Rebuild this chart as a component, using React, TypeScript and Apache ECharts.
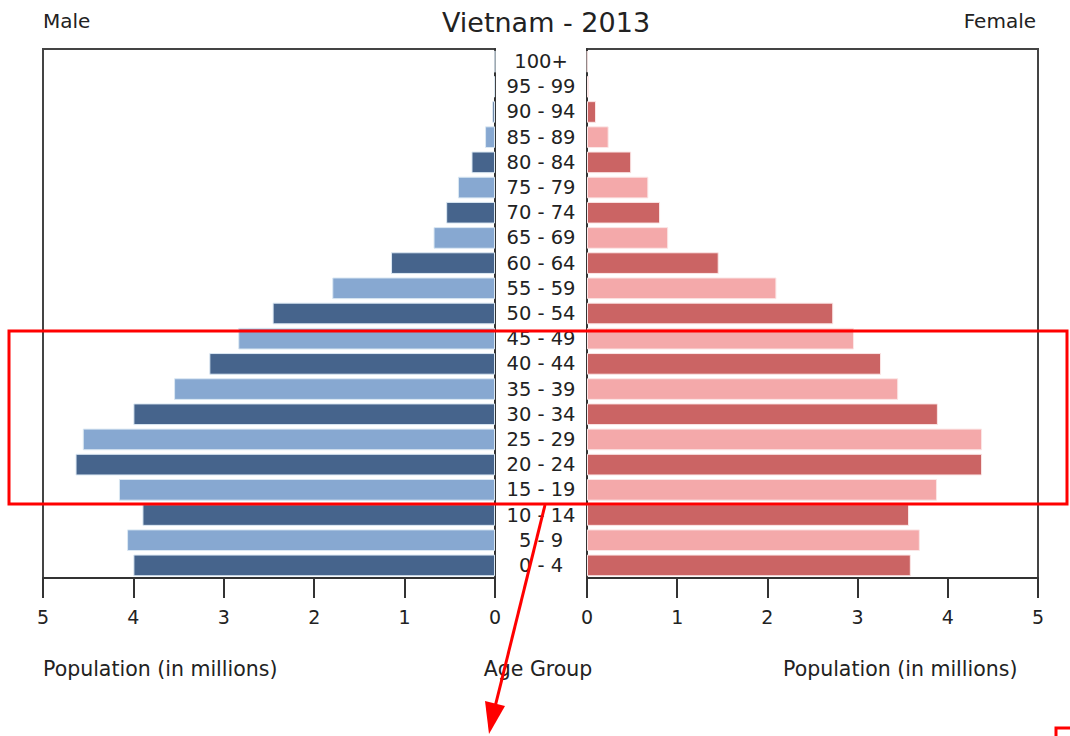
import React, { useEffect, useRef } from "react";
import * as echarts from "echarts";

const ageGroups = [
  "0 - 4", "5 - 9", "10 - 14", "15 - 19", "20 - 24", "25 - 29", "30 - 34",
  "35 - 39", "40 - 44", "45 - 49", "50 - 54", "55 - 59", "60 - 64", "65 - 69",
  "70 - 74", "75 - 79", "80 - 84", "85 - 89", "90 - 94", "95 - 99", "100+",
];

const maleValues = [
  4.0, 4.07, 3.9, 4.16, 4.64, 4.56, 4.0, 3.55, 3.16, 2.84, 2.46, 1.8, 1.15,
  0.68, 0.54, 0.41, 0.26, 0.11, 0.03, 0.01, 0.002,
];

const femaleValues = [
  3.59, 3.69, 3.57, 3.88, 4.38, 4.38, 3.89, 3.45, 3.26, 2.96, 2.73, 2.1, 1.46,
  0.9, 0.81, 0.68, 0.49, 0.24, 0.1, 0.02, 0.005,
];

const xTicks = [0, 1, 2, 3, 4, 5];

const MALE_DARK = "#46648c";
const MALE_LIGHT = "#87a8d1";
const FEMALE_DARK = "#cb6464";
const FEMALE_LIGHT = "#f4a9aa";

export default function App() {
  const ref = useRef<HTMLDivElement>(null);

  useEffect(() => {
    if (!ref.current) return;
    const chart = echarts.init(ref.current, undefined, { renderer: "svg" });
    const font = "DejaVu Sans";
    const txt = "#222";

    const xAxisCommon = {
      type: "value" as const,
      min: xTicks[0],
      max: xTicks[xTicks.length - 1],
      interval: 1,
      splitLine: { show: false },
      axisLine: { show: true, lineStyle: { color: "#333", width: 2 } },
      axisTick: { show: true, inside: false, length: 20, lineStyle: { color: "#333", width: 2 } },
      axisLabel: { color: txt, fontSize: 19, fontFamily: font, margin: 29 },
    };

    const option = {
      animation: false,
      backgroundColor: "#ffffff",
      title: {
        text: "Vietnam - 2013",
        left: 541,
        top: 4,
        textAlign: "center",
        textStyle: { color: txt, fontSize: 27, fontWeight: "normal", fontFamily: font },
      },
      grid: [
        {
          left: 43, right: 575, top: 49, bottom: 158,
          show: true, borderColor: "#444", borderWidth: 2, backgroundColor: "#fff",
        },
        {
          left: 587, right: 32, top: 49, bottom: 158,
          show: true, borderColor: "#444", borderWidth: 2, backgroundColor: "#fff",
        },
      ],
      xAxis: [
        { ...xAxisCommon, gridIndex: 0, inverse: true },
        { ...xAxisCommon, gridIndex: 1 },
      ],
      yAxis: [
        {
          type: "category", gridIndex: 0, data: ageGroups, position: "right",
          axisLine: { show: true, lineStyle: { color: "#333", width: 2 } },
          axisTick: { show: false },
          axisLabel: { show: false },
        },
        {
          type: "category", gridIndex: 1, data: ageGroups, position: "left",
          axisLine: { show: true, lineStyle: { color: "#333", width: 2 } },
          axisTick: { show: false },
          axisLabel: {
            show: true, interval: 0, hideOverlap: false, align: "center", margin: 46,
            color: txt, fontSize: 19.5, fontFamily: font, padding: [8, 0, 0, 0],
          },
        },
      ],
      series: [
        {
          type: "bar", xAxisIndex: 0, yAxisIndex: 0, barCategoryGap: "14%",
          data: maleValues.map((v, i) => ({
            value: v,
            itemStyle: { color: i % 2 === 0 ? MALE_DARK : MALE_LIGHT, borderColor: "#dbe8f3", borderWidth: 1 },
          })),
        },
        {
          type: "bar", xAxisIndex: 1, yAxisIndex: 1, barCategoryGap: "14%",
          data: femaleValues.map((v, i) => ({
            value: v,
            itemStyle: { color: i % 2 === 0 ? FEMALE_DARK : FEMALE_LIGHT, borderColor: "#fbe6e6", borderWidth: 1 },
          })),
        },
      ],
      graphic: [
        { type: "text", left: 43, top: 11, style: { text: "Male", fill: txt, fontSize: 20, fontFamily: font } },
        { type: "text", right: 34, top: 11, style: { text: "Female", fill: txt, fontSize: 20, fontFamily: font } },
        { type: "text", left: 43, top: 658, style: { text: "Population (in millions)", fill: txt, fontSize: 20.5, fontFamily: font } },
        { type: "text", x: 538, y: 658, style: { text: "Age Group", fill: txt, fontSize: 20.5, fontFamily: font, textAlign: "center" } },
        { type: "text", left: 783, top: 658, style: { text: "Population (in millions)", fill: txt, fontSize: 20.5, fontFamily: font } },
        {
          type: "rect", shape: { x: 9, y: 331, width: 1058, height: 173 },
          style: { fill: "none", stroke: "#ff0000", lineWidth: 3 }, z: 100,
        },
        {
          type: "line", shape: { x1: 545, y1: 505, x2: 495, y2: 707 },
          style: { stroke: "#ff0000", lineWidth: 3 }, z: 100,
        },
        {
          type: "polygon", shape: { points: [[489, 734], [505, 706], [485, 701]] },
          style: { fill: "#ff0000" }, z: 100,
        },
        {
          type: "polyline", shape: { points: [[1056, 736], [1056, 728], [1070, 728]] },
          style: { stroke: "#ff0000", lineWidth: 3, fill: "none" }, z: 100,
        },
      ],
    };

    chart.setOption(option as any);
    return () => chart.dispose();
  }, []);

  return (
    <div
      ref={ref}
      style={{ position: "fixed", left: 0, top: 0, width: 1070, height: 736 }}
    />
  );
}
